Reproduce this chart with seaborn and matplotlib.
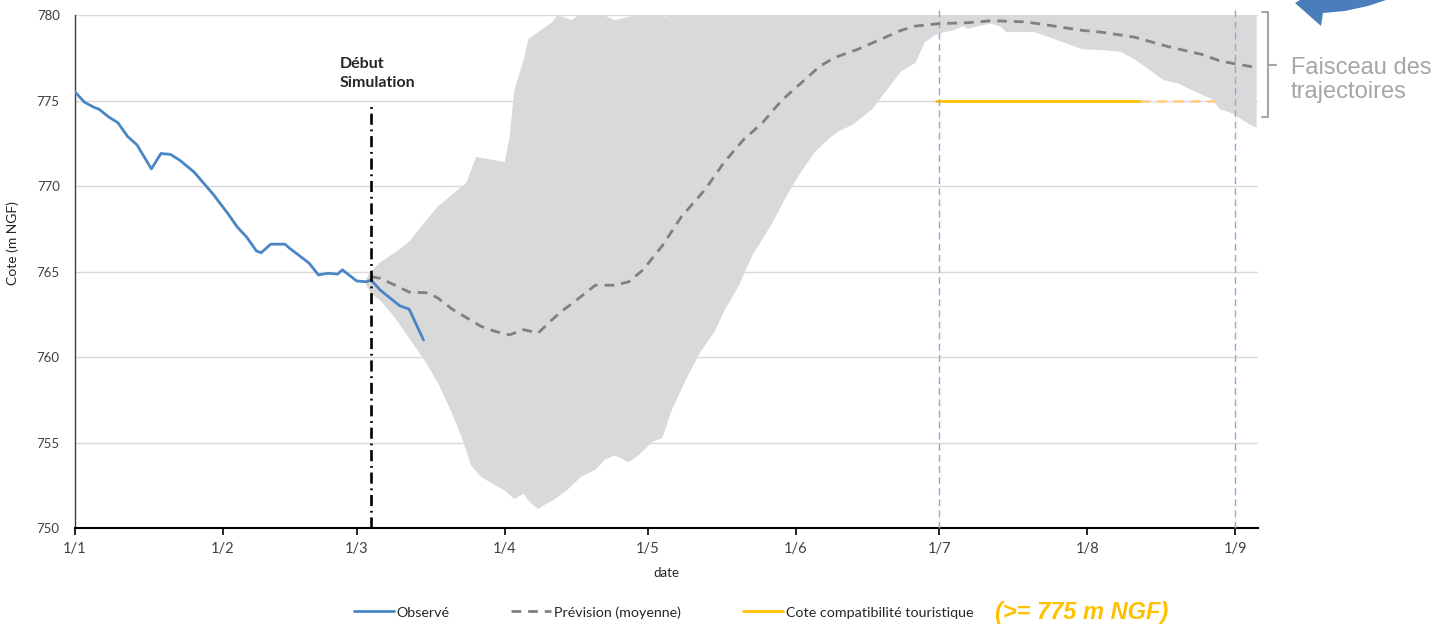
import numpy as np
import pandas as pd
import seaborn as sns
import matplotlib.pyplot as plt
import matplotlib.dates as mdates
from matplotlib.lines import Line2D
from matplotlib.patches import Polygon

# Dates are given as day offsets from 1 Jan
start = pd.Timestamp('2019-01-01')

# Observed water level
obs_day = [0, 2, 4, 5, 7, 9, 11, 13, 16, 18, 20, 22, 25, 29, 32, 34, 36, 38, 39, 41, 44, 45,
           49, 51, 53, 55, 56, 59, 61, 62, 64, 68, 70, 71, 73]
obs_cote = [775.5, 774.9, 774.6, 774.5, 774.05, 773.7, 772.9, 772.4, 771.0, 771.9, 771.85, 771.5,
            770.8, 769.5, 768.4, 767.6, 767.0, 766.2, 766.1, 766.6, 766.6, 766.35, 765.5, 764.8,
            764.9, 764.85, 765.1, 764.45, 764.4, 764.5, 763.9, 763.0, 762.8, 762.2, 761.0]

# Mean forecast
prev_day = [62, 64, 67, 70, 74, 76, 79, 82, 85, 88, 91, 94, 97, 100, 102, 104, 109, 113, 116, 119,
            123, 127, 132, 136, 140, 144, 148, 152, 156, 159, 164, 173, 176, 181, 187, 192, 199,
            204, 211, 215, 222, 229, 236, 240, 246, 248]
prev_cote = [764.7, 764.6, 764.2, 763.8, 763.75, 763.45, 762.8, 762.3, 761.8, 761.5, 761.3, 761.6,
             761.4, 762.2, 762.7, 763.1, 764.2, 764.2, 764.4, 765.1, 766.5, 768.2, 769.8, 771.4,
             772.7, 773.7, 775.0, 776.0, 777.0, 777.5, 778.0, 779.1, 779.35, 779.5, 779.55, 779.67,
             779.6, 779.4, 779.1, 779.0, 778.7, 778.15, 777.7, 777.3, 777.0, 776.9]

# Envelope of trajectories (upper and lower edges)
up_day = [61, 62, 64, 67, 70, 73, 76, 79, 82, 84, 88, 90, 91, 92, 94, 95, 97, 100, 101, 104, 106,
          110, 113, 116, 119, 124, 126, 247.5]
up_cote = [764.6, 765.0, 765.55, 766.1, 766.75, 767.8, 768.8, 769.5, 770.2, 771.7, 771.5, 771.4,
           772.8, 775.6, 777.4, 778.6, 779.0, 779.6, 780.0, 779.7, 780.1, 780.1, 779.7, 779.9,
           780.1, 779.9, 781.0, 781.0]
low_day = [61, 62, 64, 67, 70, 73, 76, 79, 81, 83, 85, 88, 90, 92, 94, 95, 97, 98, 100, 103, 106,
           109, 111, 113, 116, 118, 121, 123, 125, 128, 131, 134, 136, 139, 142, 146, 149, 152,
           155, 158, 160, 163, 167, 170, 173, 176, 178, 180, 182, 184, 186, 187, 190, 192, 194,
           195, 201, 204, 208, 211, 215, 219, 222, 225, 228, 231, 234, 238, 240, 241, 243, 246,
           247.5]
low_cote = [764.2, 763.7, 763.3, 762.3, 761.1, 759.9, 758.5, 756.7, 755.3, 753.65, 753.0, 752.5,
            752.2, 751.7, 752.0, 751.6, 751.1, 751.3, 751.6, 752.2, 753.0, 753.4, 754.0, 754.25,
            753.85, 754.25, 755.05, 755.25, 756.9, 758.7, 760.3, 761.5, 762.7, 764.15, 766.0,
            767.8, 769.4, 770.8, 772.0, 772.8, 773.2, 773.6, 774.5, 775.6, 776.7, 777.2, 778.4,
            778.8, 779.0, 779.1, 779.35, 779.2, 779.4, 779.5, 779.3, 779.0, 779.0, 778.7, 778.3,
            778.0, 777.95, 777.85, 777.4, 776.8, 776.2, 776.0, 775.6, 775.1, 774.45, 774.4,
            774.15, 773.6, 773.4]

sim_day = 62
tour_level = 775
tour_days = [180.3, 223, 239]   # solid start, solid end / dashed start, dashed end
ref_days = [181, 243]           # 1/7 and 1/9 marker lines

tick_days = [0, 31, 59, 90, 120, 151, 181, 212, 243]
tick_labels = ['1/1', '1/2', '1/3', '1/4', '1/5', '1/6', '1/7', '1/8', '1/9']


def to_date(days):
    return start + pd.to_timedelta(np.asarray(days, dtype=float), unit='D')


sns.set_style('white')
plt.rcParams['font.family'] = ['Lato', 'DejaVu Sans']

fig = plt.figure(figsize=(14.34, 6.26), dpi=100)
ax = fig.add_axes([0.0523, 0.1565, 0.8250, 0.8195])

obs = pd.DataFrame({'date': to_date(obs_day), 'cote': obs_cote})
prev = pd.DataFrame({'date': to_date(prev_day), 'cote': prev_cote})

# Band of trajectories
band_x = mdates.date2num(np.concatenate([to_date(up_day), to_date(low_day)[::-1]]))
band_y = np.concatenate([up_cote, low_cote[::-1]])
ax.fill(band_x, band_y, color='#D9D9D9', lw=0, zorder=1)

sns.lineplot(data=obs, x='date', y='cote', ax=ax, color='#4A86C4', lw=2,
             label='Observé', zorder=4)
sns.lineplot(data=prev, x='date', y='cote', ax=ax, color='#808080', lw=2,
             linestyle=(0, (3.5, 2.5)), label='Prévision (moyenne)', zorder=4)

# Tourism level
ax.plot(to_date(tour_days[:2]), [tour_level] * 2, color='#FFC000', lw=2, zorder=3,
        label='Cote compatibilité touristique')
ax.plot(to_date(tour_days[1:]), [tour_level] * 2, color='#FFD08A', lw=2, zorder=3,
        linestyle=(0, (3.5, 2.5)))

for d in ref_days:
    ax.axvline(to_date([d])[0], ymin=0, ymax=1.014, clip_on=False, color='#8EA9DB',
               lw=1, linestyle=(0, (5, 3)), zorder=3)

# Simulation start
ax.vlines(to_date([sim_day])[0], 750, 774.7, colors='black', lw=1.9,
          linestyles=[(0, (4.2, 1.8, 0.7, 1.8))], zorder=5)
ax.text(to_date([55.5])[0], 777.55, 'Début\nSimulation', fontsize=11.5, fontweight='bold',
        va='top', ha='left', linespacing=1.45)

ax.set_ylim(750, 780)
ax.set_xlim(to_date([0])[0], to_date([247.8])[0])
ax.set_yticks(range(750, 781, 5))
ax.set_xticks(to_date(tick_days))
ax.set_xticklabels(tick_labels)
ax.grid(axis='y', color='#D9D9D9', lw=1)
ax.set_axisbelow(True)
ax.tick_params(axis='y', length=0, pad=11, labelsize=9.5, labelcolor='#404040')
ax.tick_params(axis='x', length=5, width=1.2, color='black', direction='out', bottom=True,
               pad=5, labelsize=10.5, labelcolor='#404040')
for s in ['top', 'right']:
    ax.spines[s].set_visible(False)
ax.spines['bottom'].set_color('black')
ax.spines['bottom'].set_linewidth(1.5)
ax.spines['left'].set_color('#404040')
ax.spines['left'].set_linewidth(1)
ax.set_xlabel('date', fontsize=9.5, labelpad=8)
ax.set_ylabel('Cote (m NGF)', fontsize=10)
ax.yaxis.set_label_coords(-0.047, 0.556)

handles, labels = ax.get_legend_handles_labels()
ax.get_legend().remove()
fig.legend(handles, labels, loc='center', bbox_to_anchor=(0.4627, 0.022), ncol=3,
           frameon=False, fontsize=10.3, handlelength=2.8, handletextpad=0.2,
           columnspacing=4.3)
fig.text(0.694, 0.022, '(>= 775 m NGF)', color='#FFC000', fontsize=17,
         fontweight='bold', fontstyle='italic', family='Liberation Sans', va='center')

# Bracket and label for the envelope
gray = '#A6A6A6'
W, H = 1434, 626
bx = [1262, 1268, 1268, 1262]
by = [12, 12, 117, 117]
fig.add_artist(Line2D([x / W for x in bx], [1 - y / H for y in by], color=gray, lw=1.5))
fig.add_artist(Line2D([1268 / W, 1276 / W], [1 - 65 / H] * 2, color=gray, lw=1.5))
fig.text(1291 / W, 1 - 80 / H, 'Faisceau des\ntrajectoires', color=gray, fontsize=17,
         family='Liberation Sans', va='center', ha='left', linespacing=1.1)

# Partial curved arrow at the top right
arrow = [(1300, 0), (1295, 3), (1321, 26), (1323, 13), (1345, 11), (1368, 6), (1386, 0)]
fig.add_artist(Polygon([(x / W, 1 - y / H) for x, y in arrow], closed=True,
                       color='#4A7EBB', transform=fig.transFigure, lw=0))

fig.savefig('out.png', dpi=100)
